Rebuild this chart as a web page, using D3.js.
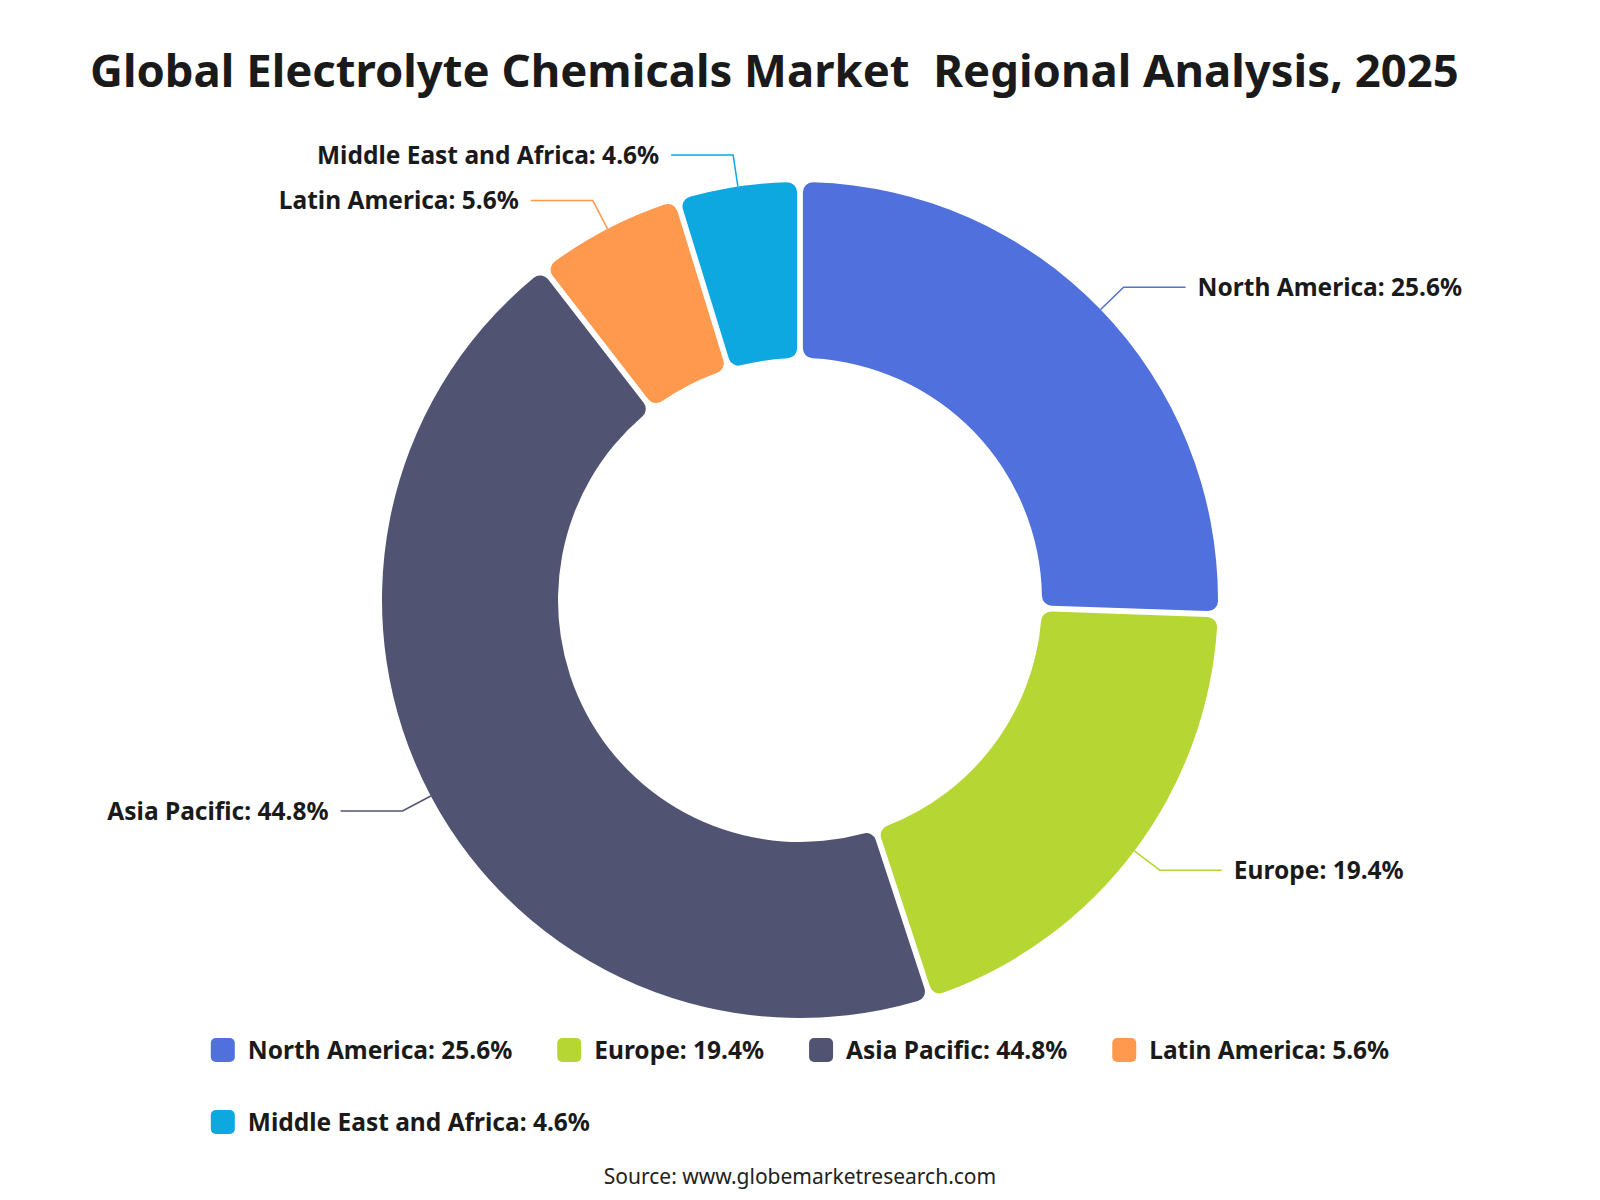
<!DOCTYPE html>
<html>
<head>
<meta charset="utf-8">
<script src="https://cdn.jsdelivr.net/npm/d3@7.9.0/dist/d3.min.js"></script>
<style>
  body { margin: 0; background: #ffffff; }
  svg { display: block; font-family: "Noto Sans", "Open Sans", sans-serif; }
</style>
</head>
<body>
<svg id="chart" width="1600" height="1200"></svg>
<script>
const regions = ["North America", "Europe", "Asia Pacific", "Latin America", "Middle East and Africa"];
const shares = [25.6, 19.4, 44.8, 5.6, 4.6];
const colors = ["#5070dd", "#b6d634", "#505372", "#ff994d", "#0ca8df"];

const width = 1600, height = 1200;
const cx = 800, cy = 600;
const outerR = 418, innerR = 242;
const textColor = "#1a1a1a";
const labelSize = 24.5;

const svg = d3.select("#chart");

// title
const title = svg.append("text")
    .attr("x", 90)
    .attr("y", 87)
    .attr("fill", textColor)
    .style("font-weight", "bold")
    .style("font-size", "48px")
    .style("white-space", "pre")
    .text("Global Electrolyte Chemicals Market  Regional Analysis, 2025");
const tw = title.node().getComputedTextLength();
title.style("font-size", (48 * 1369 / tw) + "px");

const data = regions.map((r, i) => ({ name: r, value: shares[i], color: colors[i] }));

const pie = d3.pie()
    .value(d => d.value)
    .sort(null)
    .padAngle(0.012);

const arc = d3.arc()
    .innerRadius(innerR)
    .outerRadius(outerR)
    .cornerRadius(10);

const arcs = pie(data);
const g = svg.append("g").attr("transform", "translate(" + cx + "," + cy + ")");

g.selectAll("path.slice")
    .data(arcs)
    .join("path")
    .attr("class", "slice")
    .attr("d", arc)
    .attr("fill", d => d.data.color);

// label lines
const len1 = 32, len2 = 62, gap = 12;
arcs.forEach(a => {
    const mid = (a.startAngle + a.endAngle) / 2;
    const sx = Math.sin(mid), sy = -Math.cos(mid);
    const p0 = [outerR * sx, outerR * sy];
    const p1 = [(outerR + len1) * sx, (outerR + len1) * sy];
    const right = sx >= 0;
    const p2 = [p1[0] + (right ? len2 : -len2), p1[1]];
    g.append("path")
        .attr("d", d3.line()([p0, p1, p2]))
        .attr("fill", "none")
        .attr("stroke", a.data.color)
        .attr("stroke-width", 1.5);
    g.append("text")
        .attr("x", p2[0] + (right ? gap : -gap))
        .attr("y", p2[1])
        .attr("dy", "0.35em")
        .attr("text-anchor", right ? "start" : "end")
        .attr("fill", textColor)
        .style("font-weight", "bold")
        .style("font-size", labelSize + "px")
        .text(a.data.name + ": " + a.data.value + "%");
});

// legend
const legend = svg.append("g");
const sw = 24, textGap = 13, itemGap = 45, rowH = 72, maxRow = 1250;
const items = data.map(d => {
    const it = legend.append("g");
    it.append("rect")
        .attr("width", sw).attr("height", sw)
        .attr("rx", 5)
        .attr("y", -sw / 2)
        .attr("fill", d.color);
    const t = it.append("text")
        .attr("x", sw + textGap)
        .attr("dy", "0.35em")
        .attr("fill", textColor)
        .style("font-weight", "bold")
        .style("font-size", labelSize + "px")
        .text(d.name + ": " + d.value + "%");
    return { g: it, w: sw + textGap + t.node().getComputedTextLength() };
});
const rows = [[]];
let rw = 0;
items.forEach(it => {
    const add = (rows[rows.length - 1].length ? itemGap : 0) + it.w;
    if (rw + add > maxRow && rows[rows.length - 1].length) {
        rows.push([it]); rw = it.w;
    } else {
        rows[rows.length - 1].push(it); rw += add;
    }
});
const firstW = d3.sum(rows[0], d => d.w) + itemGap * (rows[0].length - 1);
const left = cx - firstW / 2;
rows.forEach((row, ri) => {
    let x = left;
    row.forEach(it => {
        it.g.attr("transform", "translate(" + x + "," + (1050 + ri * rowH) + ")");
        x += it.w + itemGap;
    });
});

// source
svg.append("text")
    .attr("x", cx)
    .attr("y", 1177)
    .attr("dy", "0.35em")
    .attr("text-anchor", "middle")
    .attr("fill", "#222222")
    .style("font-size", "21px")
    .text("Source: www.globemarketresearch.com");
</script>
</body>
</html>
